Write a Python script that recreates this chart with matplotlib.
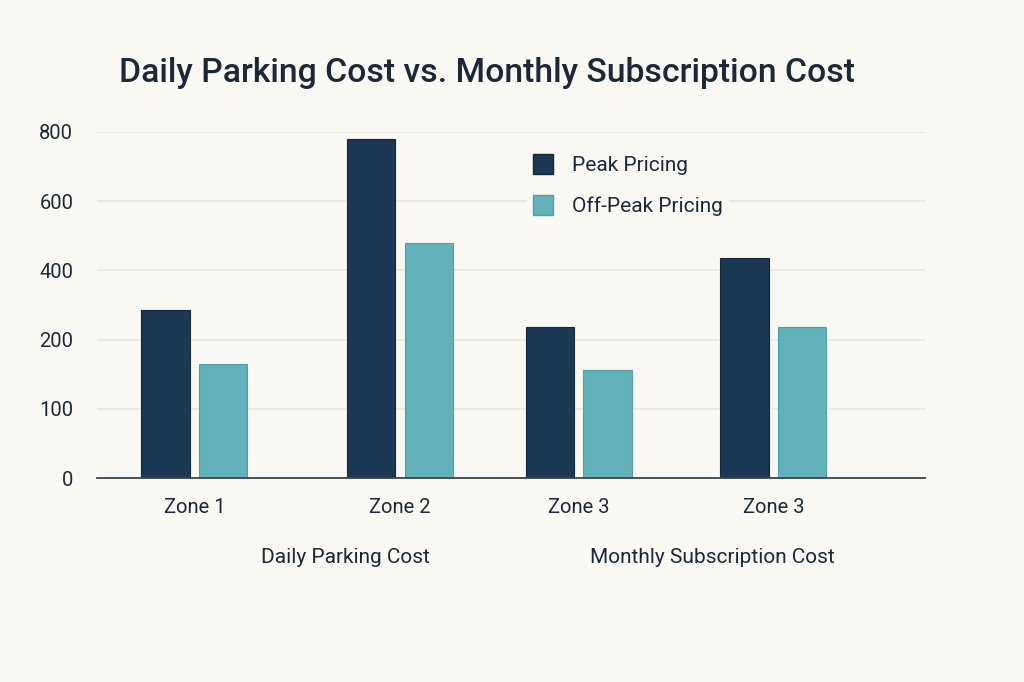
import matplotlib.pyplot as plt
import numpy as np
from matplotlib.patches import Patch

# data
zones = ["Zone 1", "Zone 2", "Zone 3", "Zone 3"]
peak = [285, 780, 236, 436]
off_peak = [165, 480, 156, 236]
groups = ["Daily Parking Cost", "Monthly Subscription Cost"]
y_ticks = [0, 100, 200, 400, 600, 800]

BG = "#faf8f3"
PEAK = "#1b3854"
OFF = "#63b1b9"
TXT = "#1c2838"

plt.rcParams['font.family'] = ['Roboto', 'DejaVu Sans']

# the y axis is spaced evenly by tick, not by value
tick_idx = np.arange(len(y_ticks) + 1, dtype=float)
tick_val = np.array(y_ticks + [1000], dtype=float)

def fwd(v):
	return np.interp(v, tick_val, tick_idx)

def inv(p):
	return np.interp(p, tick_idx, tick_val)

fig = plt.figure(figsize=(10.24, 6.82), dpi=100, facecolor=BG)
ax = fig.add_axes([0.0947, 0.2987, 0.8086, 0.508])
ax.set_facecolor(BG)
ax.set_yscale('function', functions=(fwd, inv))

x = np.array([0, 1.065, 1.99, 3.0])
w = 0.251
off = 0.149
ax.bar(x - off, peak, w, color=PEAK, edgecolor="#13283d", linewidth=0.8, zorder=3)
ax.bar(x + off, off_peak, w, color=OFF, edgecolor="#4f9fa8", linewidth=0.8, zorder=3)

ax.set_xlim(-0.505, 3.785)
ax.set_ylim(0, 800)
ax.set_yticks(y_ticks)
ax.set_yticklabels([str(t) for t in y_ticks])
ax.set_xticks(x)
ax.set_xticklabels(zones)
ax.tick_params(axis='y', length=0, pad=17, labelsize=14.5, labelcolor=TXT)
ax.tick_params(axis='x', length=0, pad=14, labelsize=14.5, labelcolor=TXT)

ax.grid(axis='y', color="#e7e5e0", linewidth=1.1, zorder=0)
for s in ['top', 'right', 'left']:
	ax.spines[s].set_visible(False)
ax.spines['bottom'].set_color("#3a4350")
ax.spines['bottom'].set_linewidth(1.3)
ax.spines['bottom'].set_zorder(4)

# group labels under the zones
ax.text(0.78, -0.228, groups[0], transform=ax.get_xaxis_transform(),
	ha='center', va='center', fontsize=15, color=TXT)
ax.text(2.686, -0.228, groups[1], transform=ax.get_xaxis_transform(),
	ha='center', va='center', fontsize=15, color=TXT)

fig.text(0.116, 0.893, "Daily Parking Cost vs. Monthly Subscription Cost",
	ha='left', va='center', fontsize=24.3, fontweight='medium', color=TXT)

handles = [Patch(facecolor=PEAK, edgecolor="#13283d", label="Peak Pricing"),
	Patch(facecolor=OFF, edgecolor="#4f9fa8", label="Off-Peak Pricing")]
leg = ax.legend(handles=handles, loc='upper left', bbox_to_anchor=(0.5145, 0.784),
	bbox_transform=fig.transFigure, fontsize=15, frameon=True, borderaxespad=0,
	handlelength=0.95, handleheight=1.15, handletextpad=0.9, labelspacing=0.95,
	borderpad=0.3)
leg.get_frame().set_facecolor(BG)
leg.get_frame().set_edgecolor('none')
leg.get_frame().set_alpha(1)
for t in leg.get_texts():
	t.set_color(TXT)

fig.savefig("out.png", dpi=100, facecolor=BG)
